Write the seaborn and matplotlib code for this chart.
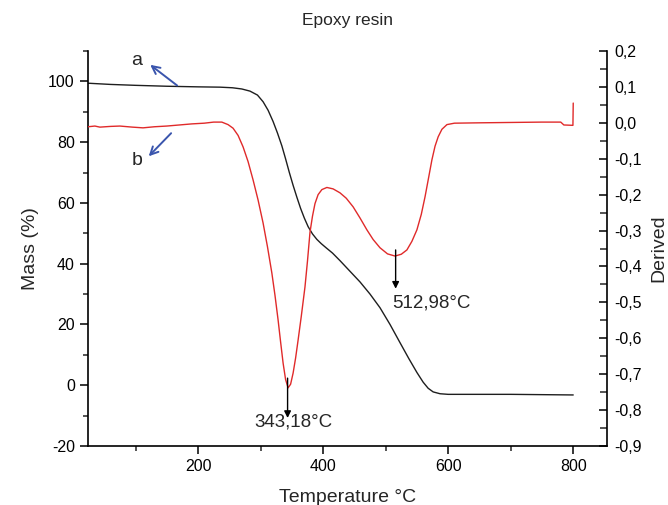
import numpy as np
import pandas as pd
import matplotlib
matplotlib.use("Agg")
import matplotlib.pyplot as plt
import seaborn as sns
from matplotlib.ticker import MultipleLocator, FuncFormatter

# mass loss curve (a), left axis
temp_mass = [24, 60, 100, 150, 200, 235, 255, 270, 283, 295, 304, 312, 320, 327,
             334, 340, 346, 352, 358, 364, 370, 376, 383, 390, 397, 405, 415, 427,
             443, 459, 475, 491, 507, 523, 537, 550, 560, 568, 576, 587, 600, 650,
             700, 750, 800]
mass = [99.4, 99.0, 98.7, 98.4, 98.2, 98.1, 97.9, 97.5, 96.8, 95.5, 93.3, 90.5,
        86.8, 83.0, 78.8, 74.5, 70.0, 65.8, 61.9, 58.2, 55.0, 52.2, 49.8, 48.0,
        46.6, 45.2, 43.5, 41.0, 37.5, 34.0, 30.0, 25.5, 20.0, 14.0, 8.8, 4.2,
        1.0, -1.0, -2.2, -2.8, -3.0, -3.0, -3.0, -3.1, -3.2]

# derivative curve (b), right axis
temp_deriv = [24, 35, 43, 60, 75, 95, 112, 130, 150, 170, 190, 210, 225, 238, 248,
              256, 264, 272, 280, 288, 296, 304, 311, 318, 323, 328, 332, 336, 340,
              344, 348, 352, 356, 360, 365, 371, 375, 379, 383, 387, 392, 398, 406,
              416, 427, 437, 448, 459, 470, 480, 491, 503, 515, 525, 534, 542, 550,
              557, 563, 569, 574, 579, 584, 590, 598, 610, 650, 700, 750, 780, 785,
              799.5, 800]
deriv = [-0.011, -0.009, -0.012, -0.010, -0.009, -0.012, -0.014, -0.011, -0.009,
         -0.006, -0.003, -0.001, 0.002, 0.002, -0.005, -0.015, -0.035, -0.067,
         -0.108, -0.159, -0.215, -0.279, -0.345, -0.418, -0.480, -0.549, -0.610,
         -0.669, -0.715, -0.738, -0.728, -0.697, -0.655, -0.605, -0.540, -0.457,
         -0.385, -0.305, -0.260, -0.225, -0.200, -0.186, -0.180, -0.184, -0.195,
         -0.210, -0.234, -0.265, -0.298, -0.325, -0.348, -0.365, -0.371, -0.366,
         -0.354, -0.330, -0.298, -0.255, -0.206, -0.150, -0.103, -0.065, -0.039,
         -0.018, -0.005, -0.001, 0.000, 0.001, 0.002, 0.002, -0.006, -0.007, 0.055]

peak1 = 343.18
peak2 = 512.98


def comma_fmt(v, pos):
    s = f"{v:.1f}".replace(".", ",")
    return "0,0" if s == "-0,0" else s


def main():
    sns.set_style("ticks")
    plt.rcParams['font.family'] = ['Liberation Sans', 'DejaVu Sans']
    plt.rcParams['axes.unicode_minus'] = False

    fig = plt.figure(figsize=(6.68, 5.05), dpi=100)
    ax = fig.add_axes([88 / 668, 59 / 505, 519 / 668, 395 / 505])
    ax2 = ax.twinx()

    df_m = pd.DataFrame({"T": temp_mass, "m": mass})
    df_d = pd.DataFrame({"T": temp_deriv, "d": deriv})
    sns.lineplot(data=df_m, x="T", y="m", ax=ax, color="#1e1e1e", linewidth=1.0,
                 estimator=None, sort=False)
    sns.lineplot(data=df_d, x="T", y="d", ax=ax2, color="#e02a2a", linewidth=1.0,
                 estimator=None, sort=False)

    ax.set_xlim(24, 854)
    ax.set_ylim(-20, 110)
    ax2.set_ylim(-0.9, 0.2)

    ax.xaxis.set_major_locator(MultipleLocator(200))
    ax.xaxis.set_minor_locator(MultipleLocator(100))
    ax.yaxis.set_major_locator(MultipleLocator(20))
    ax.yaxis.set_minor_locator(MultipleLocator(10))
    ax2.yaxis.set_major_locator(MultipleLocator(0.1))
    ax2.yaxis.set_minor_locator(MultipleLocator(0.05))
    ax2.yaxis.set_major_formatter(FuncFormatter(comma_fmt))

    ax.set_yticks([-20, 0, 20, 40, 60, 80, 100])

    for a in (ax, ax2):
        a.spines['top'].set_visible(False)
        for sp in a.spines.values():
            sp.set_linewidth(1.2)
            sp.set_color("black")
    ax.spines['right'].set_visible(False)
    ax2.spines['left'].set_visible(False)
    ax2.spines['bottom'].set_visible(False)

    ax.tick_params(axis='both', which='major', direction='out', length=6, width=1.1,
                   labelsize=11.5, colors='black')
    ax.tick_params(axis='both', which='minor', direction='out', length=3.5, width=1.1)
    ax2.tick_params(axis='y', which='major', direction='in', length=6, width=1.1,
                    labelsize=11.5, colors='black', pad=5)
    ax2.tick_params(axis='y', which='minor', direction='in', length=5, width=1.1)

    ax.set_xlabel("Temperature °C", fontsize=14)
    ax.set_ylabel("Mass (%)", fontsize=14)
    ax2.set_ylabel("Derived", fontsize=14)
    ax.xaxis.set_label_coords(0.5, -0.108)
    ax.yaxis.set_label_coords(-0.095, 0.5)
    ax2.yaxis.set_label_coords(1.083, 0.5)

    fig.text(347.5 / 668, 1 - 20 / 505, "Epoxy resin", ha="center", va="center",
             fontsize=12.5)

    # curve labels with blue arrows
    blue = "#3a55ad"
    ax.text(102, 107, "a", fontsize=14, ha="center", va="center")
    ax.text(102, 73.8, "b", fontsize=14, ha="center", va="center")
    ax.annotate("", xy=(120, 106), xytext=(170, 98.1),
                arrowprops=dict(arrowstyle="->", color=blue, lw=1.4, mutation_scale=14))
    ax.annotate("", xy=(118, 74.7), xytext=(160, 83.6),
                arrowprops=dict(arrowstyle="->", color=blue, lw=1.4, mutation_scale=14))

    # peak markers
    ax2.annotate("", xy=(peak1, -0.822), xytext=(peak1, -0.711),
                 arrowprops=dict(arrowstyle="-|>", color="black", lw=1.0,
                                 mutation_scale=10, shrinkA=0, shrinkB=0))
    ax2.text(352, -0.832, f"{peak1:.2f}°C".replace(".", ","), fontsize=13.5,
             ha="center", va="center")
    ax2.annotate("", xy=(peak2 + 3, -0.462), xytext=(peak2 + 3, -0.354),
                 arrowprops=dict(arrowstyle="-|>", color="black", lw=1.0,
                                 mutation_scale=10, shrinkA=0, shrinkB=0))
    ax2.text(510, -0.502, f"{peak2:.2f}°C".replace(".", ","), fontsize=13.5,
             ha="left", va="center")

    fig.savefig("out.png", dpi=100)


if __name__ == "__main__":
    main()
